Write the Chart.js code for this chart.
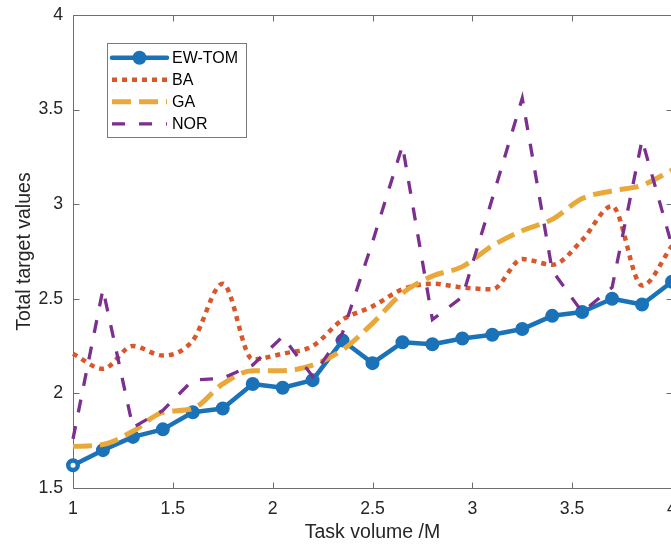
<!DOCTYPE html>
<html>
<head>
<meta charset="utf-8">
<script src="https://cdn.jsdelivr.net/npm/chart.js@4.4.1/dist/chart.umd.min.js"></script>
<style>
  html, body { margin: 0; padding: 0; background: #fff; overflow: hidden; }
  #wrap { width: 690px; height: 547px; }
</style>
</head>
<body>
<div id="wrap"><canvas id="c" width="690" height="547"></canvas></div>
<script>
// Task volume (M) on the x axis
const taskVolume = [1, 1.15, 1.3, 1.45, 1.6, 1.75, 1.9, 2.05, 2.2, 2.35, 2.5,
                    2.65, 2.8, 2.95, 3.1, 3.25, 3.4, 3.55, 3.7, 3.85, 4];

// Total target values per method
const ewTom = [1.62, 1.70, 1.77, 1.81, 1.90, 1.92, 2.05, 2.03, 2.07, 2.28, 2.16,
               2.27, 2.26, 2.29, 2.31, 2.34, 2.41, 2.43, 2.50, 2.47, 2.59];
const ba    = [2.21, 2.13, 2.25, 2.20, 2.28, 2.58, 2.18, 2.21, 2.25, 2.39, 2.46,
               2.55, 2.58, 2.56, 2.55, 2.71, 2.68, 2.81, 2.99, 2.57, 2.78];
const ga    = [1.72, 1.73, 1.80, 1.90, 1.92, 2.05, 2.12, 2.12, 2.15, 2.23, 2.37,
               2.53, 2.62, 2.67, 2.78, 2.86, 2.92, 3.03, 3.07, 3.10, 3.18];
const nor   = [1.76, 2.55, 1.82, 1.91, 2.07, 2.08, 2.15, 2.30, 2.09, 2.32, 2.80,
               3.31, 2.39, 2.51, 3.03, 3.56, 2.65, 2.43, 2.56, 3.34, 2.78];

const seriesNames = ['EW-TOM', 'BA', 'GA', 'NOR'];

// Axis ticks
const xTicks = [1, 1.5, 2, 2.5, 3, 3.5, 4];
const yTicks = [1.5, 2, 2.5, 3, 3.5, 4];

const BLUE = '#1a72b8', ORANGE = '#d9572a', YELLOW = '#e8a93a', PURPLE = '#7b2f8e';
const AXIS = '#6e6e6e', TEXT = '#262626';
const FONT = "'Liberation Sans', Arial, Helvetica, sans-serif";

const pts = ys => taskVolume.map((x, i) => ({ x: x, y: ys[i] }));

// Box around the plot with inward tick marks on all four sides
const axesBox = {
  id: 'axesBox',
  beforeDatasetsDraw(chart) {
    const { ctx, chartArea: a, scales: { x, y } } = chart;
    const L = Math.round(a.left) + 0.5, R = Math.round(a.right) + 0.5;
    const T = Math.round(a.top) + 0.5, B = Math.round(a.bottom) + 0.5;
    const len = 6;
    ctx.save();
    ctx.strokeStyle = AXIS;
    ctx.lineWidth = 1;
    ctx.beginPath();
    ctx.rect(L, T, R - L, B - T);
    x.ticks.forEach(t => {
      const px = Math.round(x.getPixelForValue(t.value)) + 0.5;
      ctx.moveTo(px, B); ctx.lineTo(px, B - len);
      ctx.moveTo(px, T); ctx.lineTo(px, T + len);
    });
    y.ticks.forEach(t => {
      const py = Math.round(y.getPixelForValue(t.value)) + 0.5;
      ctx.moveTo(L, py); ctx.lineTo(L + len, py);
      ctx.moveTo(R, py); ctx.lineTo(R - len, py);
    });
    ctx.stroke();
    ctx.restore();
  }
};

// Boxed legend in the upper-left corner of the plot
const legendBox = {
  id: 'legendBox',
  afterDatasetsDraw(chart) {
    const { ctx, chartArea: a } = chart;
    const bx = Math.round(a.left) + 34, by = Math.round(a.top) + 28;
    const bw = 139, bh = 94;
    ctx.save();
    ctx.fillStyle = '#fff';
    ctx.fillRect(bx, by, bw, bh);
    ctx.strokeStyle = '#7a7a7a';
    ctx.lineWidth = 1;
    ctx.strokeRect(bx + 0.5, by + 0.5, bw, bh);
    chart.data.datasets.forEach((ds, i) => {
      const ty = by + 15.5 + 22 * i;
      const ly = ty - 0.7;
      const x1 = bx + 5, x2 = bx + 60;
      ctx.save();
      ctx.strokeStyle = ds.borderColor;
      ctx.lineWidth = ds.borderWidth;
      ctx.lineCap = ds.borderCapStyle || 'butt';
      ctx.setLineDash(ds.borderDash || []);
      ctx.beginPath();
      ctx.moveTo(x1, ly);
      ctx.lineTo(x2, ly);
      ctx.stroke();
      ctx.restore();
      if (ds.legendMarker) {
        ctx.beginPath();
        ctx.arc((x1 + x2) / 2, ly, 5.5, 0, Math.PI * 2);
        ctx.fillStyle = ds.borderColor;
        ctx.fill();
        ctx.lineWidth = 3;
        ctx.strokeStyle = ds.borderColor;
        ctx.stroke();
      }
      ctx.fillStyle = '#000';
      ctx.font = '16px ' + FONT;
      ctx.textAlign = 'left';
      ctx.textBaseline = 'middle';
      ctx.fillText(seriesNames[i], bx + 65, ty);
    });
    ctx.restore();
  }
};

Chart.defaults.font.family = FONT;

new Chart(document.getElementById('c'), {
  type: 'line',
  data: {
    datasets: [
      {
        label: seriesNames[0],
        data: pts(ewTom),
        borderColor: BLUE,
        borderWidth: 4.5,
        borderJoinStyle: 'round',
        borderCapStyle: 'round',
        tension: 0,
        pointRadius: ewTom.map((v, i) => i === 0 ? 4.75 : 5.5),
        pointBorderWidth: ewTom.map((v, i) => i === 0 ? 4.5 : 3),
        pointBackgroundColor: ewTom.map((v, i) => i === 0 ? '#ffffff' : BLUE),
        pointBorderColor: BLUE,
        legendMarker: true,
        order: 4,
        clip: false
      },
      {
        label: seriesNames[1],
        data: pts(ba),
        borderColor: ORANGE,
        borderWidth: 4.5,
        borderDash: [5, 5],
        cubicInterpolationMode: 'monotone',
        pointRadius: 0,
        order: 3,
        clip: false
      },
      {
        label: seriesNames[2],
        data: pts(ga),
        borderColor: YELLOW,
        borderWidth: 5,
        borderDash: [19, 8],
        cubicInterpolationMode: 'monotone',
        pointRadius: 0,
        order: 2,
        clip: false
      },
      {
        label: seriesNames[3],
        data: pts(nor),
        borderColor: PURPLE,
        borderWidth: 3.3,
        borderDash: [13, 14],
        tension: 0,
        pointRadius: 0,
        order: 1,
        clip: false
      }
    ]
  },
  options: {
    responsive: false,
    animation: false,
    devicePixelRatio: 1,
    layout: { padding: { top: 15, right: 18, bottom: 0, left: 0 } },
    plugins: { legend: { display: false }, tooltip: { enabled: false } },
    scales: {
      x: {
        type: 'linear',
        min: 1, max: 4,
        afterBuildTicks: s => { s.ticks = xTicks.map(v => ({ value: v })); },
        afterFit: s => { s.height = 59; s.paddingLeft = 0; s.paddingRight = 0; },
        grid: { display: false, drawTicks: false },
        border: { display: false },
        ticks: { padding: 10, color: TEXT, font: { size: 17.7 }, maxRotation: 0, autoSkip: false,
                 callback: v => String(v) },
        title: { display: true, text: 'Task volume /M', color: TEXT, font: { size: 19.5 },
                 padding: { top: 0, bottom: 3 } }
      },
      y: {
        type: 'linear',
        min: 1.5, max: 4,
        afterBuildTicks: s => { s.ticks = yTicks.map(v => ({ value: v })); },
        afterFit: s => { s.width = 73; s.paddingTop = 0; s.paddingBottom = 0; },
        grid: { display: false, drawTicks: false },
        border: { display: false },
        ticks: { padding: 10, color: TEXT, font: { size: 17.7 }, autoSkip: false,
                 callback: v => String(v) },
        title: { display: true, text: 'Total target values', color: TEXT, font: { size: 19.5 },
                 padding: { top: 12.5, bottom: 0 } }
      }
    }
  },
  plugins: [axesBox, legendBox]
});
</script>
</body>
</html>
